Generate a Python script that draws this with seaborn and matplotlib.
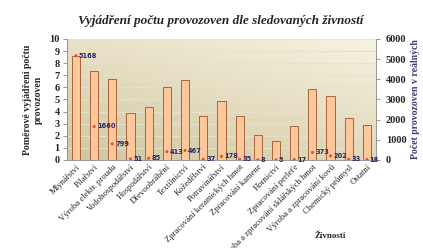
import numpy as np
import pandas as pd
import matplotlib
matplotlib.use("Agg")
import matplotlib.pyplot as plt
import seaborn as sns
from matplotlib.colors import LinearSegmentedColormap

categories = ["Mlynářství", "Pilařství", "Výroba elektr. proudu", "Vodohospodářství",
              "Hospodářství", "Dřevoobrábění", "Textilnictví", "Kožedělství",
              "Potravinářství", "Zpracování keramických hmot", "Zpracování kamene",
              "Hornictví", "Zpracování perleťe", "Výroba a zpracování sklářských hmot",
              "Výroba a zpracování kovů", "Chemický průmysl", "Ostatní"]
ratio = [8.55, 7.35, 6.65, 3.9, 4.4, 6.0, 6.6, 3.6, 4.9, 3.6, 2.1, 1.6, 2.8, 5.9, 5.25, 3.5, 2.9]
counts = [5168, 1660, 799, 51, 85, 413, 467, 37, 178, 35, 8, 5, 17, 373, 202, 33, 18]
left_ticks = list(range(0, 11))
right_ticks = [0, 1000, 2000, 3000, 4000, 5000, 6000]

df = pd.DataFrame({"cat": categories, "ratio": ratio, "count": counts})

sns.set_style("white")
plt.rcParams["font.family"] = ["Liberation Serif", "DejaVu Serif"]

fig = plt.figure(figsize=(4.23, 2.48), dpi=100)
ax = fig.add_axes([0.158, 0.355, 0.731, 0.488])

# gradient background
grad = np.linspace(0, 1, 256)
X, Y = np.meshgrid(grad, grad)
Z = 0.6 * (1 - Y) + 0.4 * X
cmap = LinearSegmentedColormap.from_list("bg", ["#cfc6a2", "#f8f3e0"])
ax.imshow(Z, extent=[0, 1, 0, 1], transform=ax.transAxes, cmap=cmap,
          aspect="auto", zorder=0, origin="upper")

sns.barplot(data=df, x="cat", y="ratio", ax=ax, color="#fcc89b", width=0.45,
            edgecolor="#a8643c", linewidth=0.7, saturation=1, zorder=3)
ax.set_xlim(-0.5, len(categories) - 0.5)
ax.set_ylim(0, 10)
ax.set_yticks(left_ticks)
ax.yaxis.grid(True, color="#e9e2c8", linewidth=0.6, zorder=1)
ax.set_axisbelow(True)
for s in ["top", "right"]:
    ax.spines[s].set_visible(False)
ax.spines["left"].set_color("#888888")
ax.spines["bottom"].set_color("#888888")
ax.spines["left"].set_linewidth(0.6)
ax.spines["bottom"].set_linewidth(0.6)
ax.tick_params(axis="y", labelsize=7.5, length=3, width=0.6, color="#888888", pad=2)
for t in ax.get_yticklabels():
    t.set_fontweight("bold")
ax.set_xticks(range(len(categories)))
ax.set_xticklabels(categories, rotation=45, ha="right", rotation_mode="anchor",
                   fontsize=6.2)
ax.tick_params(axis="x", length=0, pad=2)
ax.set_xticks(np.arange(-0.5, len(categories), 1), minor=True)
ax.tick_params(axis="x", which="minor", length=3, width=0.6, color="#888888")
ax.set_xlabel("")
ax.set_ylabel("Poměrové vyjádření počtu\nprovozoven", fontsize=7, fontweight="bold",
              labelpad=5)

ax2 = ax.twinx()
sns.scatterplot(data=df, x="cat", y="count", ax=ax2, color="#e8502a", s=5,
                edgecolor="none", zorder=5)
ax2.set_ylim(0, 6000)
ax2.set_yticks(right_ticks)
ax2.tick_params(axis="y", labelsize=7.5, length=3, width=0.6, color="#888888", pad=4)
for t in ax2.get_yticklabels():
    t.set_fontweight("bold")
for s in ["top", "left", "bottom"]:
    ax2.spines[s].set_visible(False)
ax2.spines["right"].set_color("#888888")
ax2.spines["right"].set_linewidth(0.6)
ax2.set_xlabel("")
ax2.set_ylabel("Počet provozoven v reálných", fontsize=7, fontweight="bold",
               color="#3a3a7a", labelpad=3)
for i, v in enumerate(counts):
    ax2.annotate(str(v), (i, v), xytext=(2.0, 0), textcoords="offset points",
                 fontsize=4.8, fontweight="bold", color="#2a2a6a", va="center",
                 ha="left", family=["DejaVu Sans"], zorder=6)

fig.text(0.522, 0.915, "Vyjádření počtu provozoven dle sledovaných živností",
         ha="center", va="center", fontsize=9.5, fontweight="bold", style="italic")
fig.text(0.78, 0.048, "Živnosti", ha="center", va="center", fontsize=6.5,
         fontweight="bold")

fig.savefig("out.png", dpi=100)
